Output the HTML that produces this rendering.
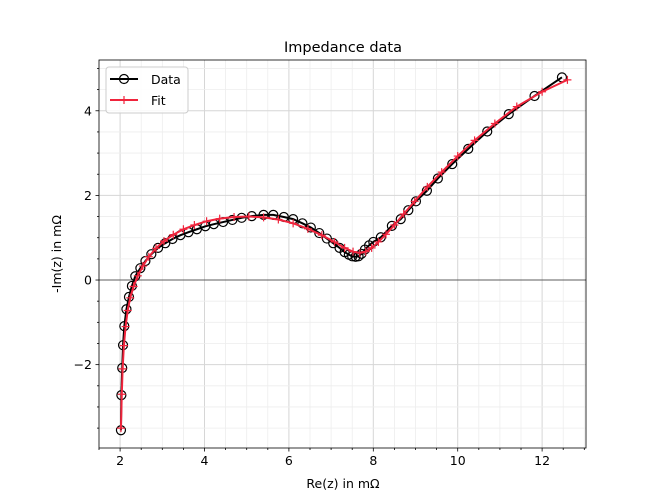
<!DOCTYPE html>
<html><head><meta charset="utf-8"><style>
body{margin:0;background:#fff}
svg{display:block;font-family:"DejaVu Sans","Liberation Sans",sans-serif}
</style></head><body>
<svg id="chart" width="668" height="503"></svg>
<script>
const dataRe=[2.02,2.03,2.05,2.07,2.1,2.15,2.21,2.28,2.36,2.48,2.6,2.74,2.9,3.07,3.24,3.43,3.62,3.82,4.02,4.22,4.44,4.66,4.88,5.12,5.4,5.63,5.88,6.1,6.32,6.52,6.72,6.9,7.05,7.2,7.32,7.42,7.5,7.58,7.65,7.72,7.8,7.9,8.0,8.18,8.44,8.65,8.83,9.01,9.27,9.53,9.87,10.25,10.7,11.21,11.82,12.47];
const dataIm=[-3.55,-2.72,-2.08,-1.54,-1.09,-0.69,-0.4,-0.14,0.09,0.28,0.45,0.61,0.76,0.87,0.97,1.06,1.13,1.2,1.27,1.32,1.37,1.42,1.47,1.51,1.54,1.54,1.49,1.44,1.34,1.24,1.11,0.98,0.87,0.76,0.66,0.6,0.56,0.55,0.56,0.62,0.72,0.82,0.9,1.01,1.28,1.44,1.65,1.86,2.11,2.4,2.74,3.1,3.51,3.92,4.35,4.79];
const fitRe=[2.02,2.04,2.06,2.09,2.13,2.18,2.24,2.32,2.42,2.54,2.68,2.85,3.04,3.26,3.5,3.76,4.05,4.36,4.7,5.05,5.4,5.75,6.1,6.45,6.78,7.08,7.32,7.52,7.68,7.82,7.96,8.12,8.3,8.5,8.72,8.98,9.28,9.62,10.0,10.4,10.88,11.4,12.0,12.6];
const fitIm=[-3.5,-2.7,-2.1,-1.55,-1.1,-0.72,-0.42,-0.15,0.1,0.33,0.55,0.75,0.92,1.07,1.2,1.3,1.39,1.45,1.49,1.5,1.48,1.43,1.34,1.21,1.06,0.9,0.76,0.67,0.64,0.67,0.76,0.9,1.08,1.3,1.56,1.86,2.2,2.55,2.93,3.3,3.7,4.1,4.45,4.73];
const xTicks=[2,4,6,8,10,12];
const yTicks=[-2,0,2,4];
const L=99,R=586,T=60,B=448,X0=1.5,X1=13.04,Y0=-3.97,Y1=5.2;
const sx=v=>L+(v-X0)/(X1-X0)*(R-L);
const sy=v=>B-(v-Y0)/(Y1-Y0)*(B-T);
const svg=document.getElementById('chart');
const NS='http://www.w3.org/2000/svg';
function mk(tag,attrs,parent){const e=document.createElementNS(NS,tag);for(const k in attrs)e.setAttribute(k,attrs[k]);(parent||svg).appendChild(e);return e;}
const grid=mk('g',{});


for(let v=1.5;v<=13.01;v+=0.5){const major=Math.abs(v/2-Math.round(v/2))<1e-6;mk('line',{x1:sx(v),x2:sx(v),y1:T,y2:B,stroke:major?'#d6d6d6':'#ededed','stroke-width':major?1:0.8},grid);
 mk('line',{x1:sx(v),x2:sx(v),y1:B,y2:B+(major?3.5:2),stroke:'#000','stroke-width':0.8});}
for(let v=-3.5;v<=5.01;v+=0.5){const major=Math.abs(v/2-Math.round(v/2))<1e-6;mk('line',{x1:L,x2:R,y1:sy(v),y2:sy(v),stroke:major?'#d6d6d6':'#ededed','stroke-width':major?1:0.8},grid);
 mk('line',{x1:L,x2:L-(major?3.5:2),y1:sy(v),y2:sy(v),stroke:'#000','stroke-width':0.8});}
const zl=mk('line',{x1:L,x2:R,y1:sy(0),y2:sy(0),stroke:'#333','stroke-width':0.7});


xTicks.forEach(v=>{const t=mk('text',{x:sx(v),y:B+17,'font-size':12.5,'text-anchor':'middle'});t.textContent=v;

});
yTicks.forEach(v=>{const t=mk('text',{x:L-7,y:sy(v)+4.5,'font-size':12.5,'text-anchor':'end'});t.textContent=v<0?'\u2212'+(-v):v;

});
const pts=(xs,ys)=>xs.map((x,i)=>sx(x)+','+sy(ys[i])).join(' ');
const dl=mk('polyline',{points:pts(dataRe,dataIm),fill:'none',stroke:'#000','stroke-width':2});


dataRe.forEach((x,i)=>{const c=mk('circle',{cx:sx(x),cy:sy(dataIm[i]),r:4.5,fill:'none',stroke:'#000','stroke-width':1.2});

});
const fl=mk('polyline',{points:pts(fitRe,fitIm),fill:'none',stroke:'#f0243c','stroke-width':2});


fitRe.forEach((x,i)=>{const px=sx(x),py=sy(fitIm[i]);const g=mk('path',{d:`M${px-4},${py}H${px+4}M${px},${py-4}V${py+4}`,stroke:'#f0243c','stroke-width':1.2});

});
const fr=mk('rect',{x:L,y:T,width:R-L,height:B-T,fill:'none',stroke:'#000','stroke-width':0.8});


</script>
<svg style="position:absolute;left:0;top:0" width="668" height="503">
<text x="343" y="52" font-size="14.5" text-anchor="middle">Impedance data</text>
<text x="343" y="488" font-size="12.5" text-anchor="middle">Re(z) in mΩ</text>
<text transform="translate(61,254) rotate(-90)" font-size="12.5" text-anchor="middle">-Im(z) in mΩ</text>
<g>
<rect x="106" y="67" width="82" height="46" rx="3" fill="#fff" fill-opacity="0.85" stroke="#ccc"/>
<g>
<line x1="110" x2="138" y1="79" y2="79" stroke="#000" stroke-width="2"/>
<circle cx="124" cy="79" r="4.5" fill="none" stroke="#000" stroke-width="1.2"/>
<text x="151" y="84" font-size="12.5">Data</text></g>
<g>
<line x1="110" x2="138" y1="100" y2="100" stroke="#f0243c" stroke-width="2"/>
<path d="M124,96V104" stroke="#f0243c" stroke-width="1.2"/>
<text x="151" y="105" font-size="12.5">Fit</text></g>
</g>
</svg>
</body></html>
